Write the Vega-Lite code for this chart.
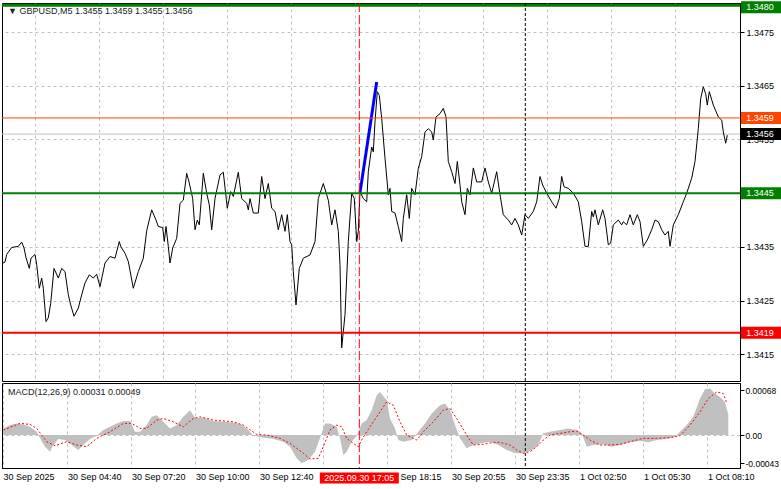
{
"$schema": "https://vega.github.io/schema/vega-lite/v6.json",
"padding": {"left": 0, "top": 0, "right": 0, "bottom": 0},
"background": "white",
"spacing": 2,
"bounds": "flush",
"config": {
  "view": {"stroke": "black", "strokeWidth": 1},
  "font": "Liberation Sans",
  "axis": {"labelFont": "Liberation Sans", "labelFontSize": 9, "labelColor": "black", "gridColor": "#C0C0C0", "gridDash": [3, 3], "gridWidth": 1, "tickColor": "black", "domainColor": "black", "title": null, "zindex": 0},
  "text": {"font": "Liberation Sans", "fontSize": 9}
},
"datasets": {
  "price": [
{"i":0,"p":1.34320},{"i":1,"p":1.34322},{"i":1.85,"p":1.34336},{"i":4.35,"p":1.34349},{"i":7.65,"p":1.34351},{"i":9.35,"p":1.34359},{"i":10.5,"p":1.34348},{"i":11.5,"p":1.34330},{"i":13.15,"p":1.34310},{"i":14,"p":1.34329},{"i":16,"p":1.34336},{"i":16.85,"p":1.34317},{"i":18.15,"p":1.34273},{"i":19.35,"p":1.34292},{"i":20.15,"p":1.34273},{"i":21.5,"p":1.34211},{"i":22.65,"p":1.34218},{"i":23.85,"p":1.34245},{"i":25.5,"p":1.34310},{"i":27.65,"p":1.34292},{"i":29.35,"p":1.34310},{"i":31,"p":1.34304},{"i":32.65,"p":1.34261},{"i":33.85,"p":1.34242},{"i":35.5,"p":1.34221},{"i":37.65,"p":1.34236},{"i":39.35,"p":1.34261},{"i":41,"p":1.34283},{"i":43.15,"p":1.34298},{"i":45.15,"p":1.34292},{"i":46.85,"p":1.34299},{"i":48.5,"p":1.34276},{"i":51,"p":1.34320},{"i":53.5,"p":1.34332},{"i":56,"p":1.34329},{"i":58.15,"p":1.34360},{"i":58.85,"p":1.34351},{"i":61,"p":1.34338},{"i":62.65,"p":1.34323},{"i":65.15,"p":1.34273},{"i":67.65,"p":1.34304},{"i":70.15,"p":1.34329},{"i":71.85,"p":1.34380},{"i":74.35,"p":1.34419},{"i":76.5,"p":1.34400},{"i":77.65,"p":1.34388},{"i":79.85,"p":1.34386},{"i":80.65,"p":1.34360},{"i":81.5,"p":1.34388},{"i":82.65,"p":1.34351},{"i":83.5,"p":1.34320},{"i":84.85,"p":1.34348},{"i":86.85,"p":1.34366},{"i":88.5,"p":1.34431},{"i":90.15,"p":1.34437},{"i":91.85,"p":1.34487},{"i":93,"p":1.34471},{"i":94.85,"p":1.34440},{"i":96,"p":1.34382},{"i":97.15,"p":1.34400},{"i":98.15,"p":1.34391},{"i":100.15,"p":1.34487},{"i":101.85,"p":1.34450},{"i":103.15,"p":1.34428},{"i":104.35,"p":1.34382},{"i":106,"p":1.34440},{"i":108.5,"p":1.34484},{"i":110.15,"p":1.34489},{"i":112.15,"p":1.34422},{"i":113.85,"p":1.34453},{"i":115.15,"p":1.34444},{"i":117.65,"p":1.34489},{"i":119.35,"p":1.34440},{"i":121.85,"p":1.34431},{"i":122.65,"p":1.34419},{"i":123.5,"p":1.34440},{"i":125.15,"p":1.34413},{"i":127.65,"p":1.34413},{"i":129.35,"p":1.34481},{"i":131,"p":1.34440},{"i":132.65,"p":1.34468},{"i":134.35,"p":1.34422},{"i":136,"p":1.34416},{"i":137.65,"p":1.34382},{"i":139.35,"p":1.34410},{"i":141,"p":1.34379},{"i":142.15,"p":1.34410},{"i":143.5,"p":1.34360},{"i":144.35,"p":1.34354},{"i":145.15,"p":1.34304},{"i":146.5,"p":1.34242},{"i":148.15,"p":1.34310},{"i":150.15,"p":1.34329},{"i":153.5,"p":1.34335},{"i":156,"p":1.34360},{"i":157.65,"p":1.34440},{"i":160.15,"p":1.34468},{"i":162.65,"p":1.34437},{"i":164.35,"p":1.34391},{"i":166,"p":1.34419},{"i":167.65,"p":1.34379},{"i":168.5,"p":1.34317},{"i":169.35,"p":1.34162},{"i":171,"p":1.34224},{"i":172.65,"p":1.34360},{"i":174.35,"p":1.34450},{"i":175.65,"p":1.34440},{"i":176.85,"p":1.34360},{"i":177.65,"p":1.34379},{"i":178.5,"p":1.34453},{"i":180.15,"p":1.34440},{"i":181.85,"p":1.34434},{"i":182.65,"p":1.34490},{"i":184.35,"p":1.34536},{"i":185.15,"p":1.34527},{"i":186,"p":1.34583},{"i":187.15,"p":1.34639},{"i":188.15,"p":1.34632},{"i":189.35,"p":1.34589},{"i":191,"p":1.34515},{"i":192.65,"p":1.34447},{"i":193.5,"p":1.34459},{"i":194.35,"p":1.34416},{"i":196,"p":1.34413},{"i":197.65,"p":1.34388},{"i":199.35,"p":1.34360},{"i":200.15,"p":1.34403},{"i":201.85,"p":1.34447},{"i":203.15,"p":1.34403},{"i":204.35,"p":1.34459},{"i":206,"p":1.34447},{"i":207.65,"p":1.34496},{"i":209.35,"p":1.34518},{"i":211,"p":1.34564},{"i":212.65,"p":1.34570},{"i":214.35,"p":1.34564},{"i":215.15,"p":1.34549},{"i":216.5,"p":1.34592},{"i":218.5,"p":1.34598},{"i":220.15,"p":1.34608},{"i":221.5,"p":1.34592},{"i":222.65,"p":1.34509},{"i":224.35,"p":1.34490},{"i":226,"p":1.34468},{"i":227.15,"p":1.34509},{"i":228.5,"p":1.34465},{"i":229.35,"p":1.34434},{"i":231,"p":1.34410},{"i":232.15,"p":1.34459},{"i":233.5,"p":1.34447},{"i":235.15,"p":1.34497},{"i":236.85,"p":1.34471},{"i":239.35,"p":1.34471},{"i":241,"p":1.34497},{"i":242.65,"p":1.34471},{"i":244.35,"p":1.34450},{"i":246.85,"p":1.34490},{"i":248.5,"p":1.34447},{"i":250.15,"p":1.34410},{"i":252.65,"p":1.34400},{"i":254.35,"p":1.34391},{"i":256,"p":1.34403},{"i":257.65,"p":1.34391},{"i":259.35,"p":1.34372},{"i":261,"p":1.34410},{"i":262.65,"p":1.34403},{"i":265.15,"p":1.34416},{"i":266.85,"p":1.34434},{"i":268.5,"p":1.34481},{"i":269.85,"p":1.34465},{"i":271.85,"p":1.34450},{"i":274.35,"p":1.34434},{"i":276.5,"p":1.34422},{"i":278.15,"p":1.34440},{"i":279.35,"p":1.34481},{"i":280.5,"p":1.34462},{"i":282.65,"p":1.34459},{"i":285.15,"p":1.34450},{"i":287.65,"p":1.34434},{"i":289.35,"p":1.34397},{"i":291,"p":1.34351},{"i":292.65,"p":1.34351},{"i":294.35,"p":1.34416},{"i":295.15,"p":1.34406},{"i":296,"p":1.34419},{"i":297.65,"p":1.34391},{"i":299.85,"p":1.34419},{"i":301,"p":1.34403},{"i":302.65,"p":1.34354},{"i":303.85,"p":1.34357},{"i":305.15,"p":1.34391},{"i":307.65,"p":1.34400},{"i":309.35,"p":1.34391},{"i":310.15,"p":1.34397},{"i":311.85,"p":1.34391},{"i":313.5,"p":1.34410},{"i":315.15,"p":1.34391},{"i":317.15,"p":1.34410},{"i":318.5,"p":1.34397},{"i":320.15,"p":1.34351},{"i":322.15,"p":1.34363},{"i":324.35,"p":1.34382},{"i":326,"p":1.34400},{"i":327.65,"p":1.34397},{"i":329.35,"p":1.34382},{"i":331,"p":1.34372},{"i":332.65,"p":1.34379},{"i":333.5,"p":1.34351},{"i":335.15,"p":1.34391},{"i":337.65,"p":1.34410},{"i":340.15,"p":1.34434},{"i":341.85,"p":1.34450},{"i":344.35,"p":1.34478},{"i":346,"p":1.34509},{"i":347.65,"p":1.34570},{"i":348.85,"p":1.34626},{"i":350.15,"p":1.34648},{"i":351.35,"p":1.34635},{"i":352.15,"p":1.34614},{"i":353.15,"p":1.34639},{"i":355.15,"p":1.34614},{"i":357.65,"p":1.34592},{"i":359.35,"p":1.34586},{"i":360.15,"p":1.34564},{"i":361.35,"p":1.34543},{"i":362.15,"p":1.34558}
  ],
  "trend": [{"i":178.5,"p":1.34451},{"i":186.85,"p":1.34657}],
  "levels": [
    {"p":1.3480,"lab":"1.3480","k":"g3"},
    {"p":1.3459,"lab":"1.3459","k":"o"},
    {"p":1.3456,"lab":"1.3456","k":"bid"},
    {"p":1.3445,"lab":"1.3445","k":"g2"},
    {"p":1.3419,"lab":"1.3419","k":"r"}
  ],
  "cursor": [{"i":178.15,"lab":"2025.09.30 17:05"}],
  "sep": [{"i":261.15}],
  "head": [{"txt":"▼ GBPUSD,M5  1.3455 1.3459 1.3455 1.3456"}],
  "mhead": [{"txt":"MACD(12,26,9) 0.00031 0.00049"}],
  "hist": [
{"i":0.15,"v":0.000101},{"i":3.5,"v":0.000151},{"i":6.85,"v":0.000177},{"i":10.15,"v":0.000162},{"i":13.5,"v":0.000125},{"i":16.85,"v":0.00005},{"i":18.5,"v":-0.00005},{"i":21,"v":-0.000177},{"i":23.5,"v":-0.000252},{"i":25.15,"v":-0.000151},{"i":27.65,"v":-0.00006},{"i":31,"v":-0.000076},{"i":34.35,"v":-0.000151},{"i":37.65,"v":-0.000227},{"i":40.15,"v":-0.000151},{"i":43.5,"v":-0.00006},{"i":46.85,"v":-0.00001},{"i":50.15,"v":0.000076},{"i":53.5,"v":0.000125},{"i":56.85,"v":0.000177},{"i":60.15,"v":0.000212},{"i":63.5,"v":0.000212},{"i":66,"v":0.00005},{"i":68.5,"v":0.00005},{"i":71.85,"v":0.000151},{"i":74.35,"v":0.000277},{"i":76.85,"v":0.000302},{"i":80.15,"v":0.000201},{"i":83.5,"v":0.000101},{"i":86.85,"v":0.000151},{"i":90.15,"v":0.000277},{"i":93.5,"v":0.000378},{"i":96,"v":0.000262},{"i":100.15,"v":0.000262},{"i":105.15,"v":0.000212},{"i":110.15,"v":0.000201},{"i":115.15,"v":0.000192},{"i":119.35,"v":0.000162},{"i":122.65,"v":0.000076},{"i":125.15,"v":-0.00001},{"i":130.15,"v":-0.00004},{"i":135.15,"v":-0.00006},{"i":140.15,"v":-0.000101},{"i":143.5,"v":-0.000177},{"i":146.85,"v":-0.000353},{"i":149.35,"v":-0.000428},{"i":152.65,"v":-0.000378},{"i":156,"v":-0.000252},{"i":158.5,"v":-0.00005},{"i":161,"v":0.000177},{"i":163.5,"v":0.000177},{"i":166.85,"v":0.000125},{"i":168.5,"v":-0.00005},{"i":170.15,"v":-0.000302},{"i":171.85,"v":-0.000252},{"i":174.35,"v":-0.000101},{"i":176.85,"v":-0.00001},{"i":179.35,"v":0.000177},{"i":181.85,"v":0.000227},{"i":184.35,"v":0.000378},{"i":186.85,"v":0.000604},{"i":188.5,"v":0.000654},{"i":191.85,"v":0.000529},{"i":193.5,"v":0.000252},{"i":196,"v":0.000101},{"i":197.65,"v":-0.000076},{"i":200.15,"v":-0.000101},{"i":204.35,"v":-0.000076},{"i":207.65,"v":0.00005},{"i":211,"v":0.000177},{"i":214.35,"v":0.000328},{"i":218.5,"v":0.000453},{"i":221,"v":0.000479},{"i":223.5,"v":0.000378},{"i":226,"v":0.000151},{"i":228.5,"v":-0.00005},{"i":231.85,"v":-0.000201},{"i":235.15,"v":-0.000151},{"i":239.35,"v":-0.000126},{"i":243.5,"v":-0.000101},{"i":247.65,"v":-0.000151},{"i":251.85,"v":-0.000227},{"i":256,"v":-0.000277},{"i":260.15,"v":-0.000277},{"i":264.35,"v":-0.000227},{"i":267.65,"v":-0.000151},{"i":270.15,"v":0.000026},{"i":273.5,"v":0.00005},{"i":278.5,"v":0.000076},{"i":282.65,"v":0.000101},{"i":286.85,"v":0.000076},{"i":289.35,"v":0.000026},{"i":291.85,"v":-0.000177},{"i":295.15,"v":-0.000151},{"i":300.15,"v":-0.000141},{"i":304.35,"v":-0.000177},{"i":308.5,"v":-0.000151},{"i":313.5,"v":-0.000111},{"i":318.5,"v":-0.000091},{"i":322.65,"v":-0.000111},{"i":326.85,"v":-0.000076},{"i":331.85,"v":-0.00006},{"i":336,"v":-0.000025},{"i":338.5,"v":0.00005},{"i":341.85,"v":0.000151},{"i":345.15,"v":0.000277},{"i":348.5,"v":0.000554},{"i":351,"v":0.000695},{"i":353.5,"v":0.000705},{"i":356,"v":0.00063},{"i":358.5,"v":0.000579},{"i":361,"v":0.000503},{"i":362.65,"v":0.00031}
  ],
  "signal": [
{"i":0.15,"v":0.000076},{"i":8.5,"v":0.000177},{"i":13.5,"v":0.000162},{"i":16.85,"v":0.000101},{"i":21.85,"v":-0.000101},{"i":26,"v":-0.000162},{"i":31.85,"v":-0.000101},{"i":36.85,"v":-0.000151},{"i":41.85,"v":-0.000177},{"i":46.85,"v":-0.00005},{"i":53.5,"v":0.00005},{"i":60.15,"v":0.000177},{"i":64.35,"v":0.000177},{"i":68.5,"v":0.000101},{"i":71.85,"v":0.000101},{"i":76.85,"v":0.000227},{"i":80.15,"v":0.000252},{"i":85.15,"v":0.000201},{"i":90.15,"v":0.000125},{"i":95.15,"v":0.000252},{"i":98.5,"v":0.000277},{"i":105.15,"v":0.000227},{"i":115.15,"v":0.000201},{"i":120.15,"v":0.000151},{"i":126.85,"v":0.00001},{"i":131.85,"v":0},{"i":138.5,"v":-0.00005},{"i":143.5,"v":-0.000126},{"i":150.15,"v":-0.000277},{"i":153.5,"v":-0.000363},{"i":157.65,"v":-0.000353},{"i":160.15,"v":-0.000177},{"i":163.5,"v":0.000076},{"i":166.85,"v":0.000151},{"i":169.35,"v":0.000125},{"i":171.85,"v":-0.00005},{"i":175.15,"v":-0.000126},{"i":177.65,"v":-0.000177},{"i":179.35,"v":-0.000076},{"i":181.85,"v":0.00005},{"i":185.15,"v":0.000201},{"i":188.5,"v":0.000352},{"i":191.85,"v":0.000503},{"i":195.15,"v":0.000453},{"i":198.5,"v":0.000201},{"i":201.85,"v":0},{"i":206.85,"v":-0.000076},{"i":210.15,"v":0.00005},{"i":215.15,"v":0.000201},{"i":220.15,"v":0.000378},{"i":223.5,"v":0.000403},{"i":226.85,"v":0.000252},{"i":231.85,"v":0},{"i":235.15,"v":-0.000151},{"i":240.15,"v":-0.000141},{"i":245.15,"v":-0.000111},{"i":248.5,"v":-0.000111},{"i":253.5,"v":-0.000151},{"i":256.85,"v":-0.000227},{"i":260.15,"v":-0.000277},{"i":263.5,"v":-0.000252},{"i":266.85,"v":-0.000177},{"i":270.15,"v":-0.000076},{"i":273.5,"v":0},{"i":278.5,"v":0.000026},{"i":283.5,"v":0.00005},{"i":286.85,"v":0.00006},{"i":290.15,"v":0},{"i":293.5,"v":-0.000076},{"i":298.5,"v":-0.000151},{"i":303.5,"v":-0.000151},{"i":308.5,"v":-0.000141},{"i":313.5,"v":-0.000101},{"i":320.15,"v":-0.00005},{"i":326.85,"v":-0.00005},{"i":333.5,"v":-0.00004},{"i":338.5,"v":-0.00001},{"i":343.5,"v":0.000151},{"i":348.5,"v":0.000352},{"i":352.65,"v":0.000554},{"i":356.85,"v":0.000654},{"i":360.15,"v":0.00063},{"i":361.85,"v":0.00049}
  ]
},
"vconcat": [
  {
    "width": 738,
    "height": 378,
    "layer": [
      {
        "data": {"name": "levels"},
        "transform": [{"filter": "datum.k == 'bid'"}],
        "mark": {"type": "rule", "color": "#C0C0C0", "strokeWidth": 1},
        "encoding": {
          "y": {"field": "p", "type": "quantitative",
                "scale": {"domain": [1.341004, 1.34804], "nice": false, "zero": false},
                "axis": {"orient": "right", "values": [1.3415, 1.3425, 1.3435, 1.3445, 1.3455, 1.3465, 1.3475], "format": ".4f", "tickSize": 4, "labelPadding": 2, "grid": true, "domain": true}}
        }
      },
      {
        "data": {"name": "price"},
        "mark": {"type": "line", "color": "#000000", "strokeWidth": 1},
        "encoding": {
          "x": {"field": "i", "type": "quantitative",
                "scale": {"domain": [-0.5, 368.5], "nice": false, "zero": false},
                "axis": {"orient": "bottom", "values": [16.2, 32.2, 48.2, 64.2, 80.2, 96.2, 112.2, 128.2, 144.2, 160.2, 176.2, 192.2, 208.2, 224.2, 240.2, 256.2, 272.2, 288.2, 304.2, 320.2, 336.2, 352.2], "labels": false, "ticks": false, "domain": false, "grid": true}},
          "y": {"field": "p", "type": "quantitative"}
        }
      },
      {
        "data": {"name": "trend"},
        "mark": {"type": "line", "color": "#0000FF", "strokeWidth": 3},
        "encoding": {
          "x": {"field": "i", "type": "quantitative"},
          "y": {"field": "p", "type": "quantitative"}
        }
      },
      {
        "data": {"name": "levels"},
        "transform": [{"filter": "datum.k == 'g3'"}],
        "mark": {"type": "rule", "color": "#008000", "strokeWidth": 3},
        "encoding": {"y": {"field": "p", "type": "quantitative"}}
      },
      {
        "data": {"name": "levels"},
        "transform": [{"filter": "datum.k == 'o'"}],
        "mark": {"type": "rule", "color": "#FF4500", "strokeWidth": 1},
        "encoding": {"y": {"field": "p", "type": "quantitative"}}
      },
      {
        "data": {"name": "levels"},
        "transform": [{"filter": "datum.k == 'g2'"}],
        "mark": {"type": "rule", "color": "#008000", "strokeWidth": 2},
        "encoding": {"y": {"field": "p", "type": "quantitative"}}
      },
      {
        "data": {"name": "levels"},
        "transform": [{"filter": "datum.k == 'r'"}],
        "mark": {"type": "rule", "color": "#FF0000", "strokeWidth": 2},
        "encoding": {"y": {"field": "p", "type": "quantitative"}}
      },
      {
        "data": {"name": "cursor"},
        "mark": {"type": "rule", "color": "#FF0000", "strokeDash": [9, 3], "strokeWidth": 1},
        "encoding": {"x": {"field": "i", "type": "quantitative"}}
      },
      {
        "data": {"name": "sep"},
        "mark": {"type": "rule", "color": "#000000", "strokeDash": [3, 2], "strokeWidth": 1},
        "encoding": {"x": {"field": "i", "type": "quantitative"}}
      },
      {
        "data": {"name": "head"},
        "mark": {"type": "text", "align": "left", "baseline": "middle", "color": "#202020", "fontSize": 9},
        "encoding": {
          "x": {"datum": 2.5},
          "y": {"datum": 1.34789},
          "text": {"field": "txt"}
        }
      },
      {
        "data": {"name": "levels"},
        "transform": [{"filter": "datum.k != 'g3'"}],
        "mark": {"type": "point", "shape": "M-1,-0.3H1V0.3H-1Z", "filled": true, "size": 1600, "opacity": 1, "strokeWidth": 0},
        "encoding": {
          "x": {"datum": 379},
          "y": {"field": "p", "type": "quantitative"},
          "color": {"field": "k", "type": "nominal", "legend": null,
                    "scale": {"domain": ["g3", "o", "bid", "g2", "r"], "range": ["#008000", "#FF4500", "#000000", "#008000", "#FF0000"]}}
        }
      },
      {
        "data": {"name": "levels"},
        "transform": [{"filter": "datum.k == 'g3'"}],
        "mark": {"type": "point", "shape": "M-1,-0.3H1V0.3H-1Z", "filled": true, "size": 1600, "opacity": 1, "strokeWidth": 0, "yOffset": 2},
        "encoding": {
          "x": {"datum": 379},
          "y": {"field": "p", "type": "quantitative"},
          "color": {"field": "k", "type": "nominal", "legend": null}
        }
      },
      {
        "data": {"name": "levels"},
        "transform": [{"filter": "datum.k != 'g3'"}],
        "mark": {"type": "text", "align": "center", "baseline": "middle", "color": "#FFFFFF", "fontSize": 9},
        "encoding": {
          "x": {"datum": 378.5},
          "y": {"field": "p", "type": "quantitative"},
          "text": {"field": "lab"}
        }
      },
      {
        "data": {"name": "levels"},
        "transform": [{"filter": "datum.k == 'g3'"}],
        "mark": {"type": "text", "align": "center", "baseline": "middle", "color": "#FFFFFF", "fontSize": 9, "dy": 2},
        "encoding": {
          "x": {"datum": 378.5},
          "y": {"field": "p", "type": "quantitative"},
          "text": {"field": "lab"}
        }
      }
    ]
  },
  {
    "width": 738,
    "height": 85,
    "layer": [
      {
        "data": {"name": "hist"},
        "mark": {"type": "area", "color": "#C0C0C0", "opacity": 1},
        "encoding": {
          "x": {"field": "i", "type": "quantitative",
                "scale": {"domain": [-0.5, 368.5], "nice": false, "zero": false},
                "axis": {"orient": "bottom", "values": [0, 16.2, 32.2, 48.2, 64.2, 80.2, 96.2, 112.2, 128.2, 144.2, 160.2, 176.2, 192.2, 208.2, 224.2, 240.2, 256.2, 272.2, 288.2, 304.2, 320.2, 336.2, 352.2],
                         "labelExpr": "['30 Sep 2025','','30 Sep 04:40','','30 Sep 07:20','','30 Sep 10:00','','30 Sep 12:40','','','','30 Sep 18:15','','30 Sep 20:55','','30 Sep 23:35','','1 Oct 02:50','','1 Oct 05:30','','1 Oct 08:10'][round((datum.value-0.2)/16)]",
                         "labelAlign": "left", "labelBaseline": "top", "labelPadding": 4, "labelOverlap": false, "labelFlush": false, "labelBound": false, "ticks": false, "domain": true, "grid": true}},
          "y": {"field": "v", "type": "quantitative",
                "scale": {"domain": [-0.0005, 0.00079], "nice": false, "zero": false},
                "axis": {"orient": "right", "values": [0.00068, 0, -0.00043],
                         "labelExpr": "datum.value > 0.0005 ? '0.00068' : (datum.value < -0.0004 ? '-0.00043' : '0.00')",
                         "tickSize": 4, "labelPadding": 1, "labelFontSize": 8.5, "grid": true,
                         "gridColor": {"condition": {"test": "datum.value == 0", "value": "#C0C0C0"}, "value": "transparent"}}},
          "y2": {"datum": 0}
        }
      },
      {
        "data": {"name": "signal"},
        "mark": {"type": "line", "color": "#FF0000", "strokeDash": [2, 2], "strokeWidth": 1},
        "encoding": {
          "x": {"field": "i", "type": "quantitative"},
          "y": {"field": "v", "type": "quantitative"}
        }
      },
      {
        "data": {"name": "cursor"},
        "mark": {"type": "rule", "color": "#FF0000", "strokeDash": [9, 3], "strokeWidth": 1},
        "encoding": {"x": {"field": "i", "type": "quantitative"}}
      },
      {
        "data": {"name": "sep"},
        "mark": {"type": "rule", "color": "#000000", "strokeDash": [3, 2], "strokeWidth": 1},
        "encoding": {"x": {"field": "i", "type": "quantitative"}}
      },
      {
        "data": {"name": "mhead"},
        "mark": {"type": "text", "align": "left", "baseline": "middle", "color": "#202020", "fontSize": 9},
        "encoding": {
          "x": {"datum": 2.5},
          "y": {"datum": 0.000659},
          "text": {"field": "txt"}
        }
      },
      {
        "data": {"name": "cursor"},
        "mark": {"type": "point", "shape": "M-1,-0.139H1V0.139H-1Z", "filled": true, "size": 6241, "opacity": 1, "strokeWidth": 0, "color": "#FF0000"},
        "encoding": {
          "x": {"field": "i", "type": "quantitative"},
          "y": {"datum": -0.000653}
        }
      },
      {
        "data": {"name": "cursor"},
        "mark": {"type": "text", "align": "center", "baseline": "middle", "color": "#FFFFFF", "fontSize": 9},
        "encoding": {
          "x": {"field": "i", "type": "quantitative"},
          "y": {"datum": -0.000653},
          "text": {"field": "lab"}
        }
      }
    ]
  }
]
}
